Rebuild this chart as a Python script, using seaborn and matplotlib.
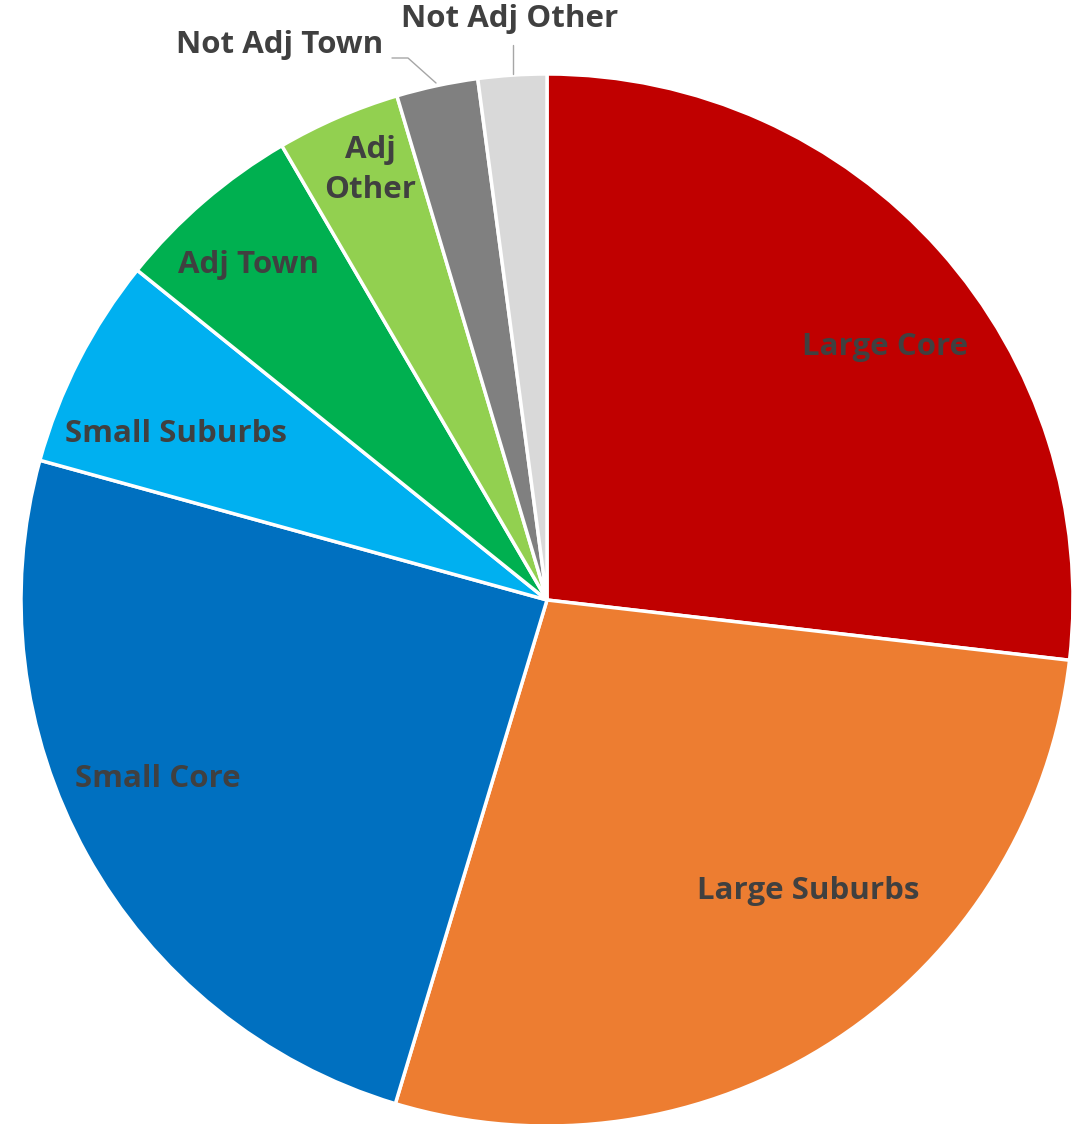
import matplotlib
matplotlib.use("Agg")
import matplotlib.pyplot as plt
import seaborn as sns
import numpy as np

# --- dane ---
categories = ['Large Core', 'Large Suburbs', 'Small Core', 'Small Suburbs',
              'Adj Town', 'Adj Other', 'Not Adj Town', 'Not Adj Other']
shares = [26.8, 27.8, 24.6, 6.5, 5.8, 3.8, 2.5, 2.1]
colors = ['#C00000', '#ED7D31', '#0070C0', '#00B0F0',
          '#00B050', '#92D050', '#808080', '#D9D9D9']
label_text = ['Large Core', 'Large Suburbs', 'Small Core', 'Small Suburbs',
              'Adj Town', 'Adj\nOther', 'Not Adj Town', 'Not Adj Other']

sns.set_style("white")
plt.rcParams['font.family'] = ['Open Sans', 'DejaVu Sans']

W, H = 1084, 1124
fig = plt.figure(figsize=(W / 100, H / 100), dpi=100)
ax = fig.add_axes([0, 0, 1, 1])

cx, cy, r = 547, H - 600, 526
wedges, _ = ax.pie(shares, colors=colors, startangle=90, counterclock=False,
                   center=(cx, cy), radius=r, frame=True,
                   wedgeprops=dict(edgecolor='white', linewidth=2.5))
ax.set_xlim(0, W)
ax.set_ylim(0, H)
ax.set_aspect('equal')
ax.axis('off')

# pozycje etykiet (piksele, od góry)
label_pos = [(885, 347), (808, 891), (158, 779), (176, 434),
             (248, 265), (370, 170), (280, 45), (510, 19)]
txt_color = '#404040'
for txt, (x, y) in zip(label_text, label_pos):
    ax.text(x, H - y, txt, ha='center', va='center', fontsize=22.5,
            fontweight='bold', color=txt_color, linespacing=1.45)

# linie odniesienia
ax.plot([392, 408, 436], [H - 58, H - 58, H - 83], color='#A6A6A6', lw=1)
ax.plot([513, 513], [H - 45, H - 74], color='#A6A6A6', lw=1)

fig.savefig('out.png', dpi=100)
